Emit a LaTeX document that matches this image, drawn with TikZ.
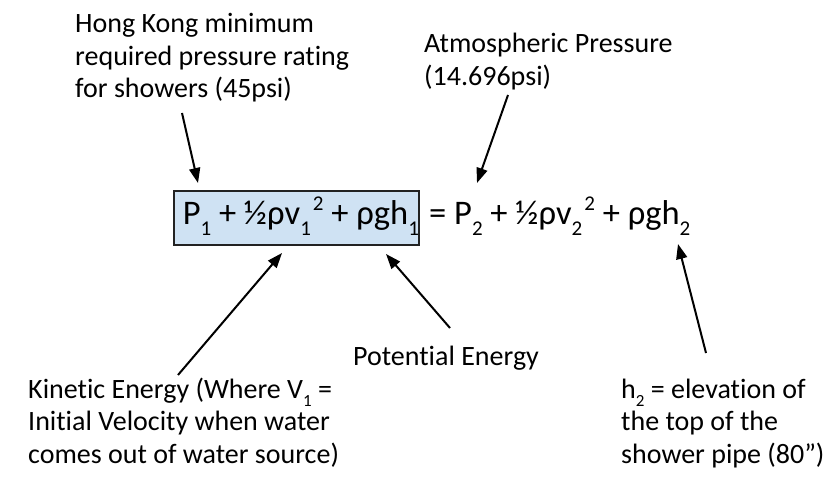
\documentclass[tikz,border=0pt]{standalone}
\usepackage{fontspec}
\setmainfont[Ligatures=NoCommon]{Carlito}
\usetikzlibrary{arrows.meta}
\definecolor{boxfill}{HTML}{CFE2F3}
\definecolor{boxline}{HTML}{222222}
\newcommand\sbs[1]{\raisebox{-11pt}{\fontsize{21}{21}\selectfont #1}}
\newcommand\sps[1]{\raisebox{14pt}{\fontsize{21}{21}\selectfont #1}}
\newcommand\lsb[1]{\raisebox{-8pt}{\fontsize{17}{17}\selectfont #1}}
\newcommand\lbl[1]{\begin{tabular}[t]{@{}l@{}}#1\end{tabular}}
\begin{document}
\begin{tikzpicture}[x=1pt,y=-1pt,
  label text/.style={font=\fontsize{28}{32.5}\selectfont, inner sep=0pt, anchor=base west},
  eq text/.style={font=\fontsize{34.5}{42}\selectfont, inner sep=0pt, anchor=base west},
  pointer/.style={line width=2pt, -{Triangle[length=15pt,width=11pt]}}]
\useasboundingbox (0,0) rectangle (832,478);
% equation
\node[eq text, draw=boxline, line width=1.5pt, fill=boxfill, text height=34pt, text depth=20pt]
  (eqL) at (173,225) {\hspace{9pt}P\sbs{1} + ½ρv\sbs{1}\hspace{2pt}\sps{2} + ρgh\sbs{1}\hspace{3pt}};
\node[eq text] (eqR) at (429,225) {= P\sbs{2} + ½ρv\sbs{2}\hspace{2pt}\sps{2} + ρgh\sbs{2}};
% labels
\node[label text] (hk) at (75,33) {\lbl{Hong Kong minimum\\required pressure rating\\for showers (45psi)}};
\node[label text] (atm) at (424,53) {\lbl{Atmospheric Pressure\\(14.696psi)}};
\node[label text] (pot) at (353,365) {Potential Energy};
\node[label text] (kin) at (28,398) {\lbl{Kinetic Energy (Where V\lsb{1} =\\Initial Velocity when water\\comes out of water source)}};
\node[label text] (hh) at (621,398) {\lbl{h\lsb{2} = elevation of\\the top of the\\shower pipe (80”)}};
% arrow end points
\coordinate (hkS) at (182,113);  \coordinate (hkT) at (198,183);
\coordinate (atmS) at (508,95);  \coordinate (atmT) at (477,183);
\coordinate (kinS) at (178,375); \coordinate (kinT) at (282,253);
\coordinate (potS) at (450,328); \coordinate (potT) at (386,254);
\coordinate (hhS) at (706,353);  \coordinate (hhT) at (678,244);
\draw[pointer] (hkS) -- (hkT);
\draw[pointer] (atmS) -- (atmT);
\draw[pointer] (kinS) -- (kinT);
\draw[pointer] (potS) -- (potT);
\draw[pointer] (hhS) -- (hhT);
\end{tikzpicture}
\end{document}
